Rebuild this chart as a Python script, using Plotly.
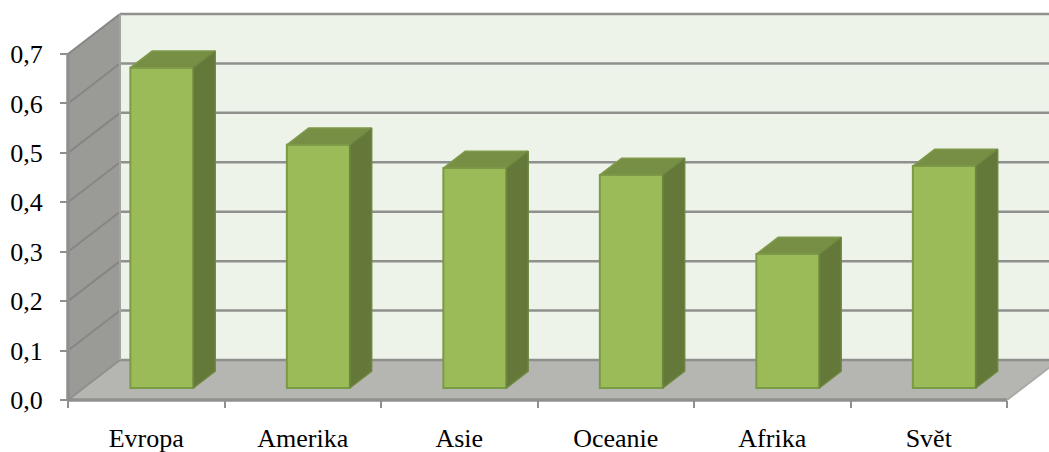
import plotly.graph_objects as go

# Regional values and axis labels
regions = ["Evropa", "Amerika", "Asie", "Oceanie", "Afrika", "Svět"]
values = [0.648, 0.492, 0.445, 0.431, 0.271, 0.449]
y_ticks = [0.0, 0.1, 0.2, 0.3, 0.4, 0.5, 0.6, 0.7]
y_labels = ["0,0", "0,1", "0,2", "0,3", "0,4", "0,5", "0,6", "0,7"]

W, H = 1049, 452
X0_PX, X_UNIT = 68.0, 156.5      # pixel of category edge 0, pixels per category
Y0_PX, Y_UNIT = 400.0, 494.3     # pixel of value 0, pixels per unit

# Oblique projection: full depth of the box expressed in data units
DEPTH_X = 52.0 / X_UNIT
DEPTH_Y = 40.0 / Y_UNIT
BAR_W = 63.0 / X_UNIT
BAR_NEAR, BAR_FAR = 0.30, 0.72   # bar position within the depth of the box
Y_MAX = y_ticks[-1]
N = len(regions)

GREY = "#8f908e"


def proj(x, y, d):
    return x + d * DEPTH_X, y + d * DEPTH_Y


def path(points):
    return "M " + " L ".join(f"{px},{py}" for px, py in points) + " Z"


def polygon(points, fill, line=None, width=0, layer="below"):
    return dict(type="path", xref="x", yref="y", path=path(points), fillcolor=fill,
                line=dict(color=line or fill, width=width), layer=layer)


def segment(a, b, color=GREY, width=2.5):
    return dict(type="line", xref="x", yref="y", x0=a[0], y0=a[1], x1=b[0], y1=b[1],
                line=dict(color=color, width=width), layer="below")


shapes = [
    # Back wall, side wall, floor
    polygon([proj(0, 0, 1), proj(N, 0, 1), proj(N, Y_MAX, 1), proj(0, Y_MAX, 1)], "#eef3ea"),
    polygon([proj(0, 0, 0), proj(0, 0, 1), proj(0, Y_MAX, 1), proj(0, Y_MAX, 0)], "#9a9b97"),
    polygon([proj(0, 0, 0), proj(N, 0, 0), proj(N, 0, 1), proj(0, 0, 1)], "#b5b6b1"),
]
# Gridlines wrapping from the side wall onto the back wall
for t in y_ticks:
    if t > 0:
        shapes.append(segment(proj(0, t, 0), proj(0, t, 1), "#868785", 2))
    shapes.append(segment(proj(0, t, 1), proj(N, t, 1), GREY, 2.5))
# Box edges
shapes += [
    segment(proj(0, 0, 0), proj(N, 0, 0), GREY, 3.5),
    segment(proj(0, 0, 0), proj(0, Y_MAX, 0), GREY, 3.5),
    segment(proj(0, 0, 0), proj(0, 0, 1), "#8f908e", 2),
    segment(proj(N, 0, 0), proj(N, 0, 1), "#a9aaa6", 2),
    segment(proj(0, Y_MAX, 1), proj(0, 0, 1), "#a3a4a0", 2),
]

fig = go.Figure()

centres = [i + 0.5 for i in range(N)]
base = BAR_NEAR * DEPTH_Y
fig.add_trace(go.Bar(
    x=[c + BAR_NEAR * DEPTH_X for c in centres],
    y=values,
    base=[base] * N,
    width=[BAR_W] * N,
    marker=dict(color="#9bbb59", line=dict(color="#7a9a46", width=2)),
    showlegend=False,
    hoverinfo="skip",
))

# Top and side faces of every bar
span = BAR_FAR - BAR_NEAR
for c, v in zip(centres, values):
    left = c + BAR_NEAR * DEPTH_X - BAR_W / 2
    right = left + BAR_W
    top = base + v
    far = (span * DEPTH_X, span * DEPTH_Y)
    top_face = [(left, top), (right, top), (right + far[0], top + far[1]),
                (left + far[0], top + far[1]), (left, top)]
    side_face = [(right, base), (right + far[0], base + far[1]),
                 (right + far[0], top + far[1]), (right, top), (right, base)]
    for pts, fill, edge in ((top_face, "#778f45", "#7f9a4a"), (side_face, "#647839", "#6f8740")):
        fig.add_trace(go.Scatter(
            x=[p[0] for p in pts], y=[p[1] for p in pts],
            mode="lines", fill="toself", fillcolor=fill,
            line=dict(color=edge, width=1.5),
            showlegend=False, hoverinfo="skip",
        ))

font = dict(family="Liberation Serif", size=26, color="#000000")
fig.update_layout(
    width=W, height=H,
    margin=dict(l=0, r=0, t=0, b=0, pad=0, autoexpand=False),
    paper_bgcolor="#ffffff",
    plot_bgcolor="#ffffff",
    shapes=shapes,
    showlegend=False,
    xaxis=dict(
        range=[-X0_PX / X_UNIT, (W - X0_PX) / X_UNIT],
        domain=[0, 1], automargin=False,
        anchor="free", position=(H - Y0_PX) / H,
        tickmode="array", tickvals=centres, ticktext=regions,
        ticks="", ticklabelstandoff=20,
        minor=dict(tickmode="array", tickvals=list(range(N + 1)), ticks="outside",
                   ticklen=7, tickwidth=2, tickcolor=GREY),
        showgrid=False, zeroline=False, showline=False, tickfont=font,
    ),
    yaxis=dict(
        range=[(Y0_PX - H) / Y_UNIT, Y0_PX / Y_UNIT],
        domain=[0, 1], automargin=False,
        anchor="free", position=X0_PX / W,
        tickmode="array", tickvals=y_ticks, ticktext=y_labels,
        ticks="outside", ticklen=8, tickwidth=2, tickcolor=GREY,
        ticklabelstandoff=12,
        showgrid=False, zeroline=False, showline=False, tickfont=font,
    ),
)

fig.write_html("out.html", config=dict(displayModeBar=False))
